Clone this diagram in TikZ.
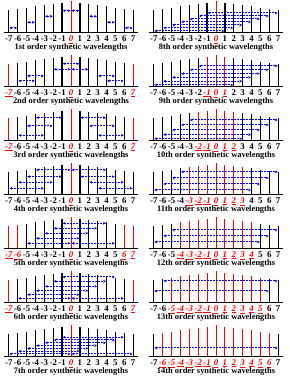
\documentclass[tikz,border=0pt]{standalone}
\usepackage{fontspec}
\setmainfont{Liberation Serif}
\usetikzlibrary{arrows.meta, positioning, calc}

\definecolor{wlblue}{RGB}{0,0,255}
\newcommand{\plainlab}[1]{#1}
\newcommand{\redlab}[1]{\textit{\underline{#1}}}

\begin{document}
\begin{tikzpicture}[
    x=1pt, y=1pt,
    bar/.style={line width=1.3pt},
    redbar/.style={line width=1pt},
    axisline/.style={line width=1pt, black},
    wl/.style={<->, draw=wlblue, dash pattern=on 2pt off 1pt, line width=1pt,
               shorten <=0.6pt, shorten >=0.6pt},
    tick/.style={font=\fontsize{8.8}{9}\selectfont\bfseries, inner sep=0pt,
                 anchor=base},
    caption/.style={font=\fontsize{8.4}{9}\selectfont\bfseries, inner sep=0pt,
                    anchor=base},
    >={Stealth[length=2.8pt, width=2.8pt]}
  ]
  \useasboundingbox (0,0) rectangle (289,382);

  % one panel per order: bars, axis, labels
  \foreach \pn/\cx/\cy/\ord/\reds in {
      1/71/349/1st/{0}, 2/71/295/2nd/{-7,0,7}, 3/71/241/3rd/{-7,0,7},
      4/71/187/4th/{0}, 5/71/133/5th/{-7,-6,0,6,7}, 6/71/79/6th/{-7,0,7},
      7/71/25/7th/{0},
      8/216/349/8th/{0}, 9/216/295/9th/{-1,0,1}, 10/216/241/10th/{-2,...,2},
      11/216/187/11th/{-3,...,3}, 12/216/133/12th/{-4,...,4},
      13/216/79/13th/{-5,...,5}, 14/216/25/14th/{-6,...,6}} {
    \foreach \i in {-7,...,7} {
      \pgfmathtruncatemacro\j{\i+7}
      \pgfmathsetmacro\xx{\cx+8.88*(\i)}
      \pgfmathsetmacro\hgt{31.5-1.25*abs(\i)}
      \gdef\tone{black}
      \gdef\barkind{bar}
      \global\let\lab\plainlab
      \foreach \r in \reds {\ifnum\r=\i\relax
        \gdef\tone{red}\gdef\barkind{redbar}\global\let\lab\redlab\fi}
      \coordinate (p\pn b\j) at (\xx,\cy);
      \draw[\barkind, draw=\tone] (p\pn b\j) -- ++(0,\hgt);
      \node[tick, text=\tone] (p\pn l\j) at ([yshift=-8.3]p\pn b\j) {\lab{\i}};
    }
    \draw[axisline] ([xshift=-4.5]p\pn b0) -- ([xshift=4.5]p\pn b14);
    \node[caption] (p\pn cap) at (\cx,\cy-16.7) {\ord\ order synthetic wavelengths};
  }

  % synthetic wavelengths: panel/from/to/height
  \foreach \pn/\fa/\fb/\ht in {
      % 1st order
      1/-7/-6/5, 1/-5/-4/10.7, 1/-3/-2/16.7, 1/-1/0/22.3, 1/0/1/22.3,
      1/2/3/16.7, 1/4/5/10.7, 1/6/7/5,
      % 2nd order
      2/-6/-4/6, 2/-5/-3/11, 2/-2/0/17.7, 2/0/2/17.7, 2/-1/1/23.3,
      2/3/5/11, 2/4/6/6,
      % 3rd order
      3/-6/-3/5.7, 3/-5/-2/15, 3/-4/-1/23.3, 3/1/4/23.3, 3/2/5/15, 3/3/6/5.7,
      % 4th order
      4/-7/-3/6.7, 4/-6/-2/12.7, 4/-5/-1/18.3, 4/-4/0/25, 4/0/4/25,
      4/1/5/18.3, 4/2/6/12.7, 4/3/7/6.7,
      % 5th order
      5/-5/0/5.7, 5/0/5/5.7, 5/-4/1/10.7, 5/-3/2/15.7, 5/-2/3/20.7, 5/-1/4/25.7,
      % 6th order
      6/-6/0/4.7, 6/0/6/4.7, 6/-5/1/8.3, 6/-4/2/12.3, 6/-3/3/16.7,
      6/-2/4/21.7, 6/-1/5/26,
      % 7th order
      7/-7/0/3, 7/0/7/3, 7/-6/1/5.8, 7/-5/2/8.6, 7/-4/3/11.4, 7/-3/4/14.2,
      7/-2/5/17, 7/-1/6/19.8,
      % 8th order
      8/-7/1/2, 8/-6/2/5, 8/-5/3/8, 8/-4/4/11, 8/-3/5/14, 8/-2/6/17, 8/-1/7/20,
      % 9th order
      9/-7/2/2, 9/-6/3/5.8, 9/-5/4/9.6, 9/-4/5/13.4, 9/-3/6/17.2, 9/-2/7/21,
      % 10th order
      10/-7/3/2.3, 10/-6/4/6.3, 10/-5/5/11, 10/-4/6/16, 10/-3/7/21,
      % 11th order
      11/-7/4/5, 11/-6/5/11, 11/-5/6/17, 11/-4/7/23,
      % 12th order
      12/-7/5/7, 12/-6/6/13, 12/-5/7/19,
      % 13th order
      13/-7/6/12, 13/-6/7/22,
      % 14th order
      14/-7/7/9} {
    \pgfmathtruncatemacro\ja{\fa+7}
    \pgfmathtruncatemacro\jb{\fb+7}
    \draw[wl] ([yshift=\ht]p\pn b\ja) -- ([yshift=\ht]p\pn b\jb);
  }
\end{tikzpicture}
\end{document}
